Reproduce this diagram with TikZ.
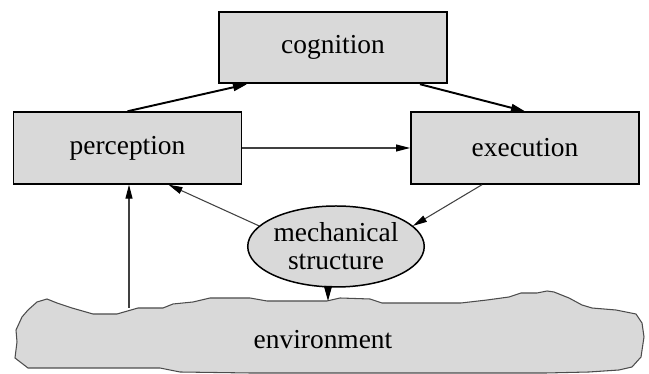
\documentclass[tikz,border=0pt]{standalone}
\usepackage{fontspec}
\setmainfont{Liberation Serif}
\usepackage{tikz}
\usetikzlibrary{arrows.meta,shapes.geometric}
\definecolor{szary}{RGB}{217,217,217}

\tikzset{
	blok/.style={draw, fill=szary, line width=1.1pt, minimum width=4.56cm, minimum height=1.43cm},
	gruba/.style={line width=1.1pt, -{Triangle[length=0.28cm, width=0.15cm]}},
	cienka/.style={line width=0.6pt, draw=black!75, -{Triangle[length=0.28cm, width=0.14cm, color=black]}}
}

\begin{document}
\begin{tikzpicture}[font=\fontsize{15.6}{16}\selectfont]
		\useasboundingbox (0,0) rectangle (12.98,7.48);

		% Otoczenie
		\draw[fill=szary, draw=black!70, line width=0.6pt]
		(0.94,1.50) -- (1.14,1.42) -- (1.44,1.32) -- (1.86,1.20) -- (2.34,1.20) -- (2.76,1.32)
		-- (3.26,1.32) -- (3.46,1.40) -- (3.86,1.44) -- (4.20,1.52) -- (5.00,1.52) -- (5.34,1.46)
		-- (6.54,1.46) -- (6.80,1.52) -- (7.40,1.50) -- (7.64,1.42) -- (9.22,1.42) -- (9.74,1.48)
		-- (10.18,1.54) -- (10.42,1.62) -- (10.74,1.62) -- (10.94,1.66) -- (11.08,1.64) -- (11.38,1.52)
		-- (11.64,1.38) -- (11.84,1.32) -- (12.32,1.28) -- (12.72,1.20) -- (12.84,1.02) -- (12.88,0.74)
		-- (12.82,0.34) -- (12.64,0.14) -- (12.38,0.08) -- (11.78,0.04) -- (10.92,0.02) -- (5.00,0.02)
		-- (3.60,0.04) -- (3.20,0.12) -- (1.56,0.12) -- (0.56,0.12) -- (0.30,0.32) -- (0.34,0.64)
		-- (0.32,0.88) -- (0.44,1.14) -- (0.56,1.28) -- (0.74,1.44) -- cycle;
		\node (env) at (6.46,0.68) {environment};
		\coordinate (envl) at (2.58,1.32);
		\coordinate (envt) at (6.56,1.46);

		% Bloki
		\node[blok] (cog) at (6.66,6.53) {cognition};
		\node[blok] (perc) at (2.55,4.52) {perception};
		\node[blok] (exec) at (10.50,4.52) {execution};
		\node[draw, fill=szary, ellipse, line width=0.85pt, inner sep=0pt, align=center,
		minimum width=3.06cm, minimum height=1.62cm] (mech) at (6.72,2.55) {mechanical\\structure};

		% Strzałki
		\draw[gruba] (perc.north) -- ([xshift=0.58cm]cog.south west);
		\draw[gruba] ([xshift=-0.56cm]cog.south east) -- (exec.north);
		\draw[cienka] (perc.east) -- (exec.west);
		\draw[cienka] ([xshift=-0.86cm]exec.south) -- (mech.15);
		\draw[cienka] (mech.165) -- ([xshift=0.82cm]perc.south);
		\draw[cienka] (envl) -- (envl |- perc.south);
		\draw[line width=0.6pt, -{Triangle[length=0.3cm, width=0.16cm]}] (mech.south -| envt) -- (envt);

	\end{tikzpicture}
\end{document}
